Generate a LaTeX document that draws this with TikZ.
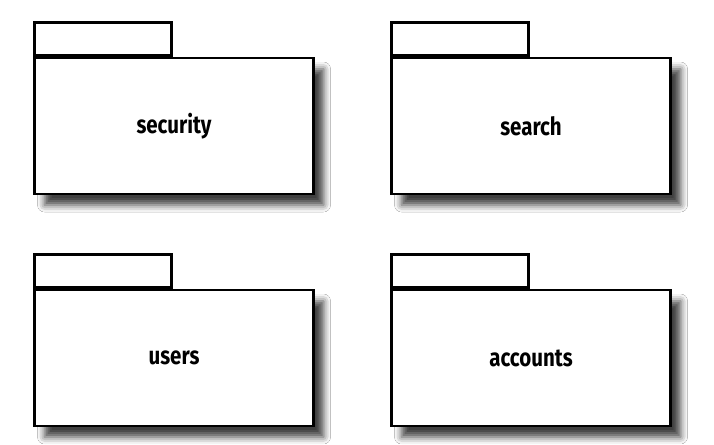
\documentclass[tikz,border=0pt]{standalone}
\usepackage{fontspec}
\setmainfont{Fira Sans}[FakeStretch=0.82]
\usetikzlibrary{shadows.blur,positioning}
\begin{document}
\begin{tikzpicture}[x=1pt,y=-1pt,
  pkgbody/.style={draw=black, line width=2.8pt, fill=white, minimum width=279pt, minimum height=136pt,
    inner sep=0pt, font=\fontsize{25}{28}\selectfont\bfseries,
    blur shadow={shadow xshift=10pt, shadow yshift=-11pt, shadow blur radius=7pt, shadow opacity=75}},
  pkgtab/.style={draw=black, line width=2.8pt, fill=white, minimum width=137pt, minimum height=33pt,
    inner sep=0pt, anchor=south west}
]
\useasboundingbox[fill=white] (0,0) rectangle (714,444);
\node[pkgbody] (security) at (174,126) {security};
\node[pkgbody] (search) at (531,126) {search};
\node[pkgbody] (users) at (174,358) {users};
\node[pkgbody] (accounts) at (531,358) {accounts};
\foreach \p in {security,search,users,accounts}{
  \node[pkgtab] (\p tab) at (\p.north west) {};
}
\end{tikzpicture}
\end{document}
